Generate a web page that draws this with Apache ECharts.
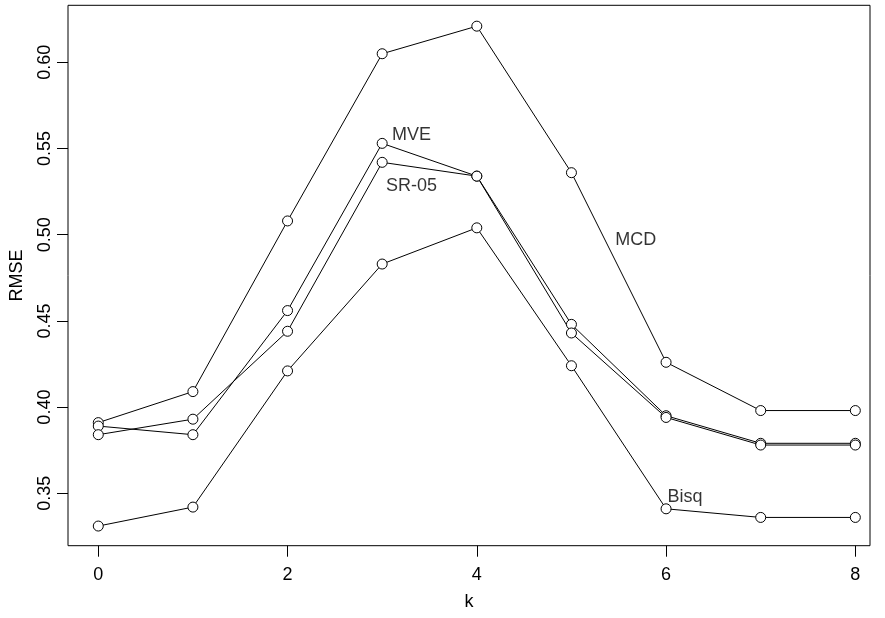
<!DOCTYPE html>
<html>
<head>
<meta charset="utf-8">
<script src="https://cdn.jsdelivr.net/npm/echarts@6/dist/echarts.min.js"></script>
<style>
html,body{margin:0;padding:0;background:#fff;}
#chart{width:885px;height:618px;}
</style>
</head>
<body>
<div id="chart"></div>
<script>
// ---- data ----
const kValues = [0, 1, 2, 3, 4, 5, 6, 7, 8];
const mcd  = [0.391, 0.409, 0.508, 0.605, 0.621, 0.536, 0.426, 0.398, 0.398];
const mve  = [0.389, 0.384, 0.456, 0.553, 0.534, 0.448, 0.395, 0.379, 0.379];
const sr05 = [0.384, 0.393, 0.444, 0.542, 0.534, 0.443, 0.394, 0.378, 0.378];
const bisq = [0.331, 0.342, 0.421, 0.483, 0.504, 0.424, 0.341, 0.336, 0.336];
const xTicks = [0, 2, 4, 6, 8];
const yTicks = [0.35, 0.40, 0.45, 0.50, 0.55, 0.60];
const annoNames = ['MVE', 'SR-05', 'MCD', 'Bisq'];
const annoX = [3.31, 3.31, 5.68, 6.2];
const annoY = [0.558, 0.528, 0.497, 0.348];

const FONT = 'Liberation Sans';
const FS = 18;

function pairs(vals) { return kValues.map((k, i) => [k, vals[i]]); }

function lineSeries(name, vals) {
  return {
    name: name,
    type: 'line',
    data: pairs(vals),
    symbol: 'circle',
    symbolSize: 10,
    showAllSymbol: true,
    lineStyle: { color: '#000', width: 1 },
    itemStyle: { color: '#fff', borderColor: '#000', borderWidth: 1 },
    emphasis: { disabled: true },
    z: 2
  };
}

const chart = echarts.init(document.getElementById('chart'), null, { renderer: 'canvas' });
chart.setOption({
  animation: false,
  backgroundColor: '#fff',
  grid: { left: 67.5, top: 5.3, right: 15, bottom: 72.3, show: true, borderColor: '#000', borderWidth: 1, backgroundColor: 'transparent' },
  xAxis: {
    type: 'value',
    min: -0.32, max: 8.155,
    name: 'k', nameLocation: 'middle', nameGap: 47,
    nameTextStyle: { fontFamily: FONT, fontSize: FS, color: '#000' },
    axisLine: { show: false, onZero: false },
    splitLine: { show: false },
    axisTick: { show: true, length: 11, inside: false, customValues: xTicks, lineStyle: { color: '#000', width: 1 } },
    axisLabel: { show: true, margin: 20, customValues: xTicks, fontFamily: FONT, fontSize: FS, color: '#000' }
  },
  yAxis: {
    type: 'value',
    min: 0.3196, max: 0.6331,
    name: 'RMSE', nameLocation: 'middle', nameGap: 42,
    nameTextStyle: { fontFamily: FONT, fontSize: FS, color: '#000' },
    axisLine: { show: false, onZero: false },
    splitLine: { show: false },
    axisTick: { show: true, length: 11, inside: false, customValues: yTicks, lineStyle: { color: '#000', width: 1 } },
    axisLabel: { show: true, margin: 14, rotate: 90, customValues: yTicks, fontFamily: FONT, fontSize: FS, color: '#000',
      formatter: v => v.toFixed(2) }
  },
  series: [
    lineSeries('MCD', mcd),
    lineSeries('MVE', mve),
    lineSeries('SR-05', sr05),
    lineSeries('Bisq', bisq),
    {
      type: 'scatter',
      symbolSize: 1,
      itemStyle: { color: 'rgba(0,0,0,0)' },
      data: annoNames.map((n, i) => ({ name: n, value: [annoX[i], annoY[i]] })),
      label: { show: true, position: 'inside', formatter: '{b}', fontFamily: FONT, fontSize: FS, color: '#000' },
      emphasis: { disabled: true },
      z: 3
    }
  ]
});
</script>
</body>
</html>
